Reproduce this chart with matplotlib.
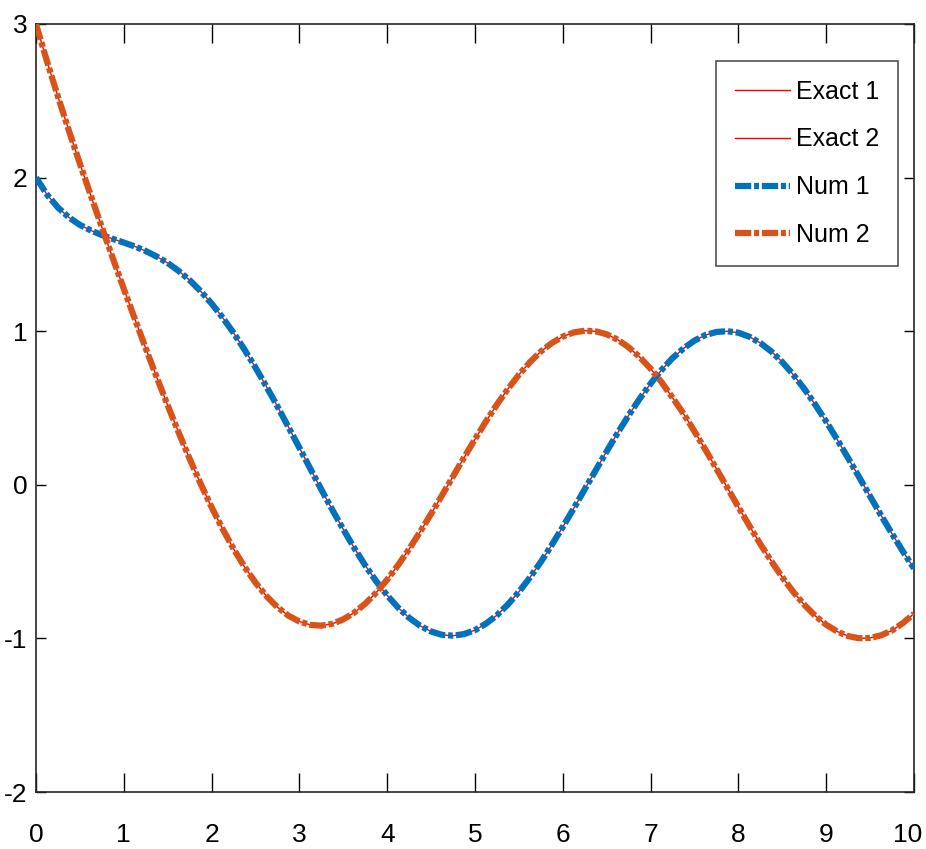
import matplotlib
matplotlib.use("Agg")
import matplotlib.pyplot as plt
from matplotlib.ticker import FixedLocator
from matplotlib.transforms import ScaledTranslation

FONT = ['Liberation Sans Narrow', 'Liberation Sans', 'DejaVu Sans']
plt.rcParams['font.family'] = FONT

# Values
x = [0, 0.125, 0.25, 0.375, 0.5, 0.625, 0.75, 0.875, 1, 1.125, 1.25, 1.375, 1.5, 1.625,
     1.75, 1.875, 2, 2.125, 2.25, 2.375, 2.5, 2.625, 2.75, 2.875, 3, 3.125, 3.25, 3.375,
     3.5, 3.625, 3.75, 3.875, 4, 4.125, 4.25, 4.375, 4.5, 4.625, 4.75, 4.875, 5, 5.125,
     5.25, 5.375, 5.5, 5.625, 5.75, 5.875, 6, 6.125, 6.25, 6.375, 6.5, 6.625, 6.75, 6.875,
     7, 7.125, 7.25, 7.375, 7.5, 7.625, 7.75, 7.875, 8, 8.125, 8.25, 8.375, 8.5, 8.625,
     8.75, 8.875, 9, 9.125, 9.25, 9.375, 9.5, 9.625, 9.75, 9.875, 10]
y1 = [2.000, 1.890, 1.805, 1.741, 1.692, 1.656, 1.626, 1.601, 1.577, 1.552, 1.522, 1.486,
      1.444, 1.392, 1.332, 1.261, 1.180, 1.089, 0.989, 0.880, 0.763, 0.639, 0.510, 0.376,
      0.241, 0.104, -0.031, -0.163, -0.290, -0.412, -0.525, -0.628, -0.720, -0.800,
      -0.866, -0.918, -0.955, -0.977, -0.982, -0.972, -0.946, -0.904, -0.849, -0.779,
      -0.697, -0.604, -0.502, -0.391, -0.274, -0.153, -0.029, 0.095, 0.218, 0.338, 0.452,
      0.560, 0.659, 0.748, 0.825, 0.888, 0.939, 0.975, 0.995, 1.000, 0.990, 0.964, 0.923,
      0.868, 0.799, 0.717, 0.625, 0.522, 0.412, 0.295, 0.174, 0.050, -0.075, -0.199,
      -0.319, -0.435, -0.544]
y2 = [3.000, 2.757, 2.527, 2.305, 2.091, 1.882, 1.677, 1.475, 1.276, 1.081, 0.888, 0.700,
      0.517, 0.340, 0.169, 0.007, -0.146, -0.287, -0.417, -0.534, -0.637, -0.725, -0.797,
      -0.852, -0.890, -0.912, -0.917, -0.905, -0.876, -0.832, -0.774, -0.702, -0.617,
      -0.522, -0.418, -0.306, -0.189, -0.068, 0.055, 0.177, 0.297, 0.413, 0.523, 0.624,
      0.717, 0.798, 0.868, 0.923, 0.965, 0.992, 1.003, 0.999, 0.980, 0.945, 0.895, 0.832,
      0.756, 0.668, 0.567, 0.463, 0.347, 0.228, 0.104, -0.020, -0.145, -0.267, -0.386,
      -0.497, -0.602, -0.697, -0.781, -0.853, -0.911, -0.955, -0.985, -0.999, -0.997,
      -0.980, -0.948, -0.900, -0.839]
labels = ['Exact 1', 'Exact 2', 'Num 1', 'Num 2']
xticks = [0, 1, 2, 3, 4, 5, 6, 7, 8, 9, 10]
yticks = [-2, -1, 0, 1, 2, 3]

fig = plt.figure(figsize=(9.26, 8.49), dpi=100)
ax = fig.add_axes([36/926, 1-792/849, (914-36)/926, (792-24)/849])

dd = (0, (2.6, 0.45, 0.8, 0.45))
e1, = ax.plot(x, y1, color='#FF0000', lw=1.0, zorder=2, label=labels[0])
e2, = ax.plot(x, y2, color='#FF0000', lw=1.0, zorder=2, label=labels[1])
n1, = ax.plot(x, y1, color='#0072BD', lw=4.5, ls=dd, dash_capstyle='butt', zorder=3, label=labels[2])
n2, = ax.plot(x, y2, color='#D95319', lw=4.5, ls=dd, dash_capstyle='butt', zorder=3, label=labels[3])

ax.set_xlim(0, 10)
ax.set_ylim(-2, 3)
ax.xaxis.set_major_locator(FixedLocator(xticks))
ax.yaxis.set_major_locator(FixedLocator(yticks))
ax.set_xticklabels([str(t) for t in xticks])
ax.set_yticklabels([str(t) for t in yticks])
ax.tick_params(axis='x', direction='in', length=14, width=1.0, top=True, labelsize=19, pad=22)
ax.tick_params(axis='y', direction='in', length=7, width=1.0, right=True, labelsize=19, pad=6)
for s in ax.spines.values():
    s.set_linewidth(1.2)
    s.set_color('#262626')

leg = ax.legend(handles=[e1, e2, n1, n2], loc='upper right',
                bbox_to_anchor=(898/926, 1-61/849), bbox_transform=fig.transFigure,
                fontsize=18, frameon=True, fancybox=False, edgecolor='#262626',
                handlelength=2.2, handletextpad=0.25, labelspacing=0.95,
                borderpad=0.75, borderaxespad=0)
leg.get_frame().set_linewidth(1.2)

fig.canvas.draw()
for lbl in ax.get_yticklabels():
    lbl.set_va('center_baseline')
last = ax.get_xticklabels()[-1]
last.set_transform(last.get_transform() + ScaledTranslation(-0.06, 0, fig.dpi_scale_trans))

fig.savefig('out.png', dpi=100)
